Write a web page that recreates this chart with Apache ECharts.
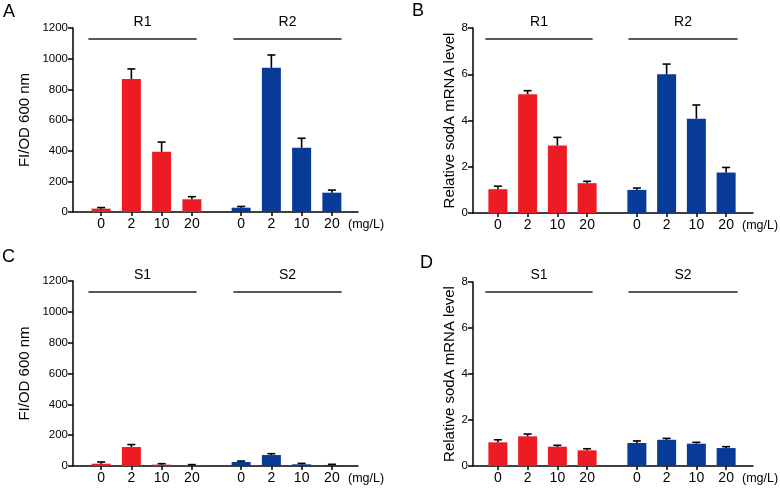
<!DOCTYPE html>
<html><head><meta charset="utf-8">
<script src="https://cdn.jsdelivr.net/npm/echarts@6/dist/echarts.min.js"></script>
<style>html,body{margin:0;padding:0;background:#fff}#c{width:780px;height:490px}</style>
</head><body><div id="c"></div>
<script>
// ---- data ----
const doses = ['0', '2', '10', '20'];
const yTicksFI = [0, 200, 400, 600, 800, 1000, 1200];
const yTicksRel = [0, 2, 4, 6, 8];
// Panel A: FI/OD600, strains R1 / R2
const aR1 = [22, 868, 393, 83];
const aR1Err = [7, 65, 63, 17];
const aR2 = [28, 940, 419, 126];
const aR2Err = [8, 84, 62, 17];
// Panel B: relative sodA mRNA, R1 / R2
const bR1 = [1.03, 5.14, 2.92, 1.29];
const bR1Err = [0.13, 0.15, 0.35, 0.08];
const bR2 = [1.0, 6.0, 4.08, 1.75];
const bR2Err = [0.08, 0.44, 0.59, 0.22];
// Panel C: FI/OD600, S1 / S2
const cS1 = [15, 123, 9, 4];
const cS1Err = [11, 16, 6, 5];
const cS2 = [26, 71, 11, 6];
const cS2Err = [6, 9, 6, 5];
// Panel D: relative sodA mRNA, S1 / S2
const dS1 = [1.03, 1.29, 0.84, 0.68];
const dS1Err = [0.11, 0.10, 0.06, 0.07];
const dS2 = [1.0, 1.14, 0.97, 0.78];
const dS2Err = [0.09, 0.06, 0.06, 0.06];

// ---- layout / style ----
const RED = '#ED1C24', BLUE = '#083A98';
const FONT = 'Liberation Sans, Arial, Helvetica, sans-serif';
const panels = [
  {letter:'A', lx:3, ly:3, ax:73, top:28, bot:212, right:358, g:[86,226], gw:121,
   ticks:yTicksFI, yName:'FI/OD 600 nm', nameGap:41,
   groups:[{name:'R1', v:aR1, e:aR1Err, c:RED},{name:'R2', v:aR2, e:aR2Err, c:BLUE}],
   lines:[[89,196],[234,341]], lineY:29},
  {letter:'B', lx:412, ly:2, ax:473, top:28, bot:213, right:753, g:[483,622], gw:119,
   ticks:yTicksRel, yName:'Relative sodA mRNA level', nameGap:15,
   groups:[{name:'R1', v:bR1, e:bR1Err, c:RED},{name:'R2', v:bR2, e:bR2Err, c:BLUE}],
   lines:[[486,592],[629,737]], lineY:29},
  {letter:'C', lx:2, ly:248, ax:73, top:281, bot:466, right:358, g:[86,226], gw:121,
   ticks:yTicksFI, yName:'FI/OD 600 nm', nameGap:41,
   groups:[{name:'S1', v:cS1, e:cS1Err, c:RED},{name:'S2', v:cS2, e:cS2Err, c:BLUE}],
   lines:[[89,196],[234,341]], lineY:282},
  {letter:'D', lx:420, ly:254, ax:473, top:282, bot:466, right:753, g:[483,622], gw:119,
   ticks:yTicksRel, yName:'Relative sodA mRNA level', nameGap:15,
   groups:[{name:'S1', v:dS1, e:dS1Err, c:RED},{name:'S2', v:dS2, e:dS2Err, c:BLUE}],
   lines:[[486,592],[629,737]], lineY:282}
];

const grid = [], xAxis = [], yAxis = [], series = [], title = [];
const AX = {color:'#000', width:1.5};

function errRender(params, api) {
  const b = api.coord([api.value(0), api.value(1)]);
  const t = api.coord([api.value(0), api.value(2)]);
  const st = {stroke:'#000', lineWidth:1.6};
  return {type:'group', children:[
    {type:'line', shape:{x1:b[0], y1:b[1], x2:t[0], y2:t[1]}, style:st},
    {type:'line', shape:{x1:t[0]-4, y1:t[1], x2:t[0]+4, y2:t[1]}, style:st}
  ]};
}

panels.forEach(p => {
  const ymax = p.ticks[p.ticks.length-1];
  const interval = p.ticks[1] - p.ticks[0];
  title.push({text:p.letter, left:p.lx, top:p.ly, padding:0,
    textStyle:{fontSize:18, fontWeight:'normal', color:'#000', fontFamily:FONT}});
  // main frame grid: y axis + continuous x axis line
  let gi = grid.length;
  grid.push({left:p.ax, top:p.top, width:p.right-p.ax, height:p.bot-p.top});
  xAxis.push({gridIndex:gi, type:'value', min:0, max:1, axisLine:{show:true, lineStyle:AX},
    axisTick:{show:false}, axisLabel:{show:false}, splitLine:{show:false}});
  yAxis.push({gridIndex:gi, type:'value', min:0, max:ymax, interval:interval,
    name:p.yName, nameLocation:'middle', nameGap:p.nameGap,
    nameTextStyle:{fontSize:15, color:'#000', fontFamily:FONT},
    axisLine:{show:true, lineStyle:AX},
    axisTick:{show:true, length:5, lineStyle:AX},
    axisLabel:{fontSize:11.5, color:'#000', margin:5, fontFamily:FONT, formatter:v => String(v)},
    splitLine:{show:false}});
  // group grids
  p.groups.forEach((g, k) => {
    const gj = grid.length;
    grid.push({left:p.g[k], top:p.top, width:p.gw, height:p.bot-p.top});
    const xa = {gridIndex:gj, type:'category', data:doses,
      axisLine:{show:false}, axisTick:{show:true, alignWithLabel:true, length:4, lineStyle:AX},
      axisLabel:{fontSize:14, color:'#000', margin:5, fontFamily:FONT}};
    if (k === 1) {
      xa.name = '(mg/L)';
      xa.nameLocation = 'end';
      xa.nameGap = 1;
      xa.nameTextStyle = {fontSize:12.5, color:'#000', fontFamily:FONT, verticalAlign:'top', padding:[6,0,0,0]};
    }
    const xi = xAxis.length;
    xAxis.push(xa);
    const yi = yAxis.length;
    yAxis.push({gridIndex:gj, type:'value', min:0, max:ymax, show:false});
    series.push({type:'bar', xAxisIndex:xi, yAxisIndex:yi, data:g.v, barWidth:19,
      itemStyle:{color:g.c}, silent:true, animation:false});
    series.push({type:'custom', xAxisIndex:xi, yAxisIndex:yi, renderItem:errRender,
      data:g.v.map((v, i) => [i, v, v + g.e[i]]), z:5, silent:true, animation:false});
    // bracket line + group label
    const bl = p.lines[k];
    const gb = grid.length;
    grid.push({left:bl[0], top:p.lineY, width:bl[1]-bl[0], height:10});
    xAxis.push({gridIndex:gb, type:'value', min:0, max:1, position:'top',
      axisLine:{show:true, lineStyle:{color:'#222', width:1.6}}, axisTick:{show:false},
      axisLabel:{show:false}, splitLine:{show:false},
      name:g.name, nameLocation:'middle', nameGap:0,
      nameTextStyle:{fontSize:14, color:'#000', fontFamily:FONT, verticalAlign:'bottom'}});
    yAxis.push({gridIndex:gb, type:'value', show:false, min:0, max:1});
  });
});

const chart = echarts.init(document.getElementById('c'), null, {renderer:'canvas'});
chart.setOption({animation:false, backgroundColor:'#fff', title, grid, xAxis, yAxis, series});
</script></body></html>
